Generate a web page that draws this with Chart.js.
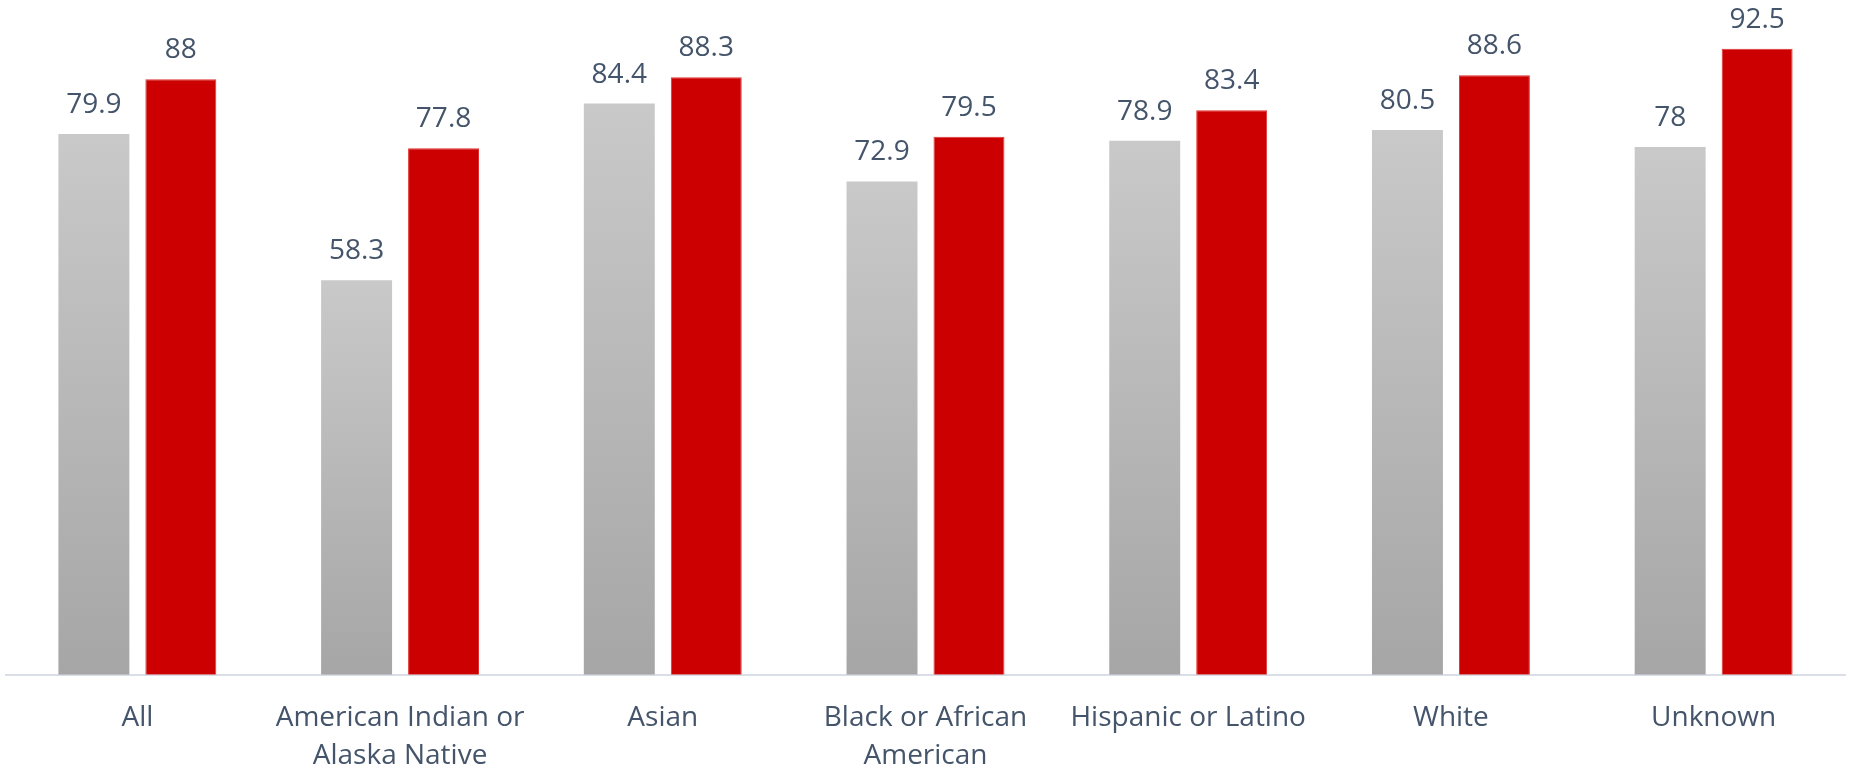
<!DOCTYPE html>
<html>
<head>
<meta charset="utf-8">
<script src="https://cdn.jsdelivr.net/npm/chart.js@4/dist/chart.umd.min.js"></script>
<style>
    html, body { margin: 0; padding: 0; background: #fff; }
    #wrap { width: 1849px; height: 769px; }
</style>
</head>
<body>
<div id="wrap"><canvas id="chart"></canvas></div>
<script>
// categories (multi-line labels as arrays)
const categories = [
    'All',
    ['American Indian or', 'Alaska Native'],
    'Asian',
    ['Black or African', 'American'],
    'Hispanic or Latino',
    'White',
    'Unknown'
];
const seriesGray = [79.9, 58.3, 84.4, 72.9, 78.9, 80.5, 78];
const seriesRed = [88, 77.8, 88.3, 79.5, 83.4, 88.6, 92.5];

const textColor = '#44546a';

// grey bars fade from light at top to darker at the axis, per bar
const grayGradient = function (context) {
    const chart = context.chart;
    const {ctx, chartArea, scales} = chart;
    if (!chartArea || context.raw === undefined) return '#b8b8b8';
    const top = scales.y.getPixelForValue(context.raw);
    const g = ctx.createLinearGradient(0, top, 0, chartArea.bottom);
    g.addColorStop(0, '#c9c9c9');
    g.addColorStop(1, '#a6a6a6');
    return g;
};

// no datalabels plugin available, so draw the numbers above the bars ourselves
const valueLabels = {
    id: 'valueLabels',
    afterDatasetsDraw(chart) {
        const ctx = chart.ctx;
        ctx.save();
        ctx.font = '28px "Open Sans"';
        ctx.fillStyle = textColor;
        ctx.textAlign = 'center';
        ctx.textBaseline = 'alphabetic';
        chart.data.datasets.forEach((ds, i) => {
            chart.getDatasetMeta(i).data.forEach((bar, j) => {
                ctx.fillText(String(ds.data[j]), bar.x, bar.y - 21);
            });
        });
        ctx.restore();
    }
};

new Chart(document.getElementById('chart'), {
    type: 'bar',
    data: {
        labels: categories,
        datasets: [
            {
                label: 'Series 1',
                data: seriesGray,
                backgroundColor: grayGradient,
                borderWidth: 0
            },
            {
                label: 'Series 2',
                data: seriesRed,
                backgroundColor: '#cc0000',
                borderColor: '#e03030',
                borderWidth: 1
            }
        ]
    },
    options: {
        responsive: true,
        maintainAspectRatio: false,
        animation: false,
        categoryPercentage: 0.662,
        barPercentage: 0.816,
        layout: {
            padding: {left: 6, right: 4, top: 0, bottom: -22}
        },
        plugins: {
            legend: {display: false},
            tooltip: {enabled: false}
        },
        scales: {
            x: {
                grid: {display: false},
                border: {display: true, color: '#d9dee7', width: 2},
                ticks: {
                    color: textColor,
                    font: {family: 'Open Sans', size: 28, lineHeight: 1.36},
                    padding: 16,
                    maxRotation: 0,
                    autoSkip: false
                }
            },
            y: {
                display: false,
                min: 0,
                max: 99.7
            }
        }
    },
    plugins: [valueLabels]
});
</script>
</body>
</html>
